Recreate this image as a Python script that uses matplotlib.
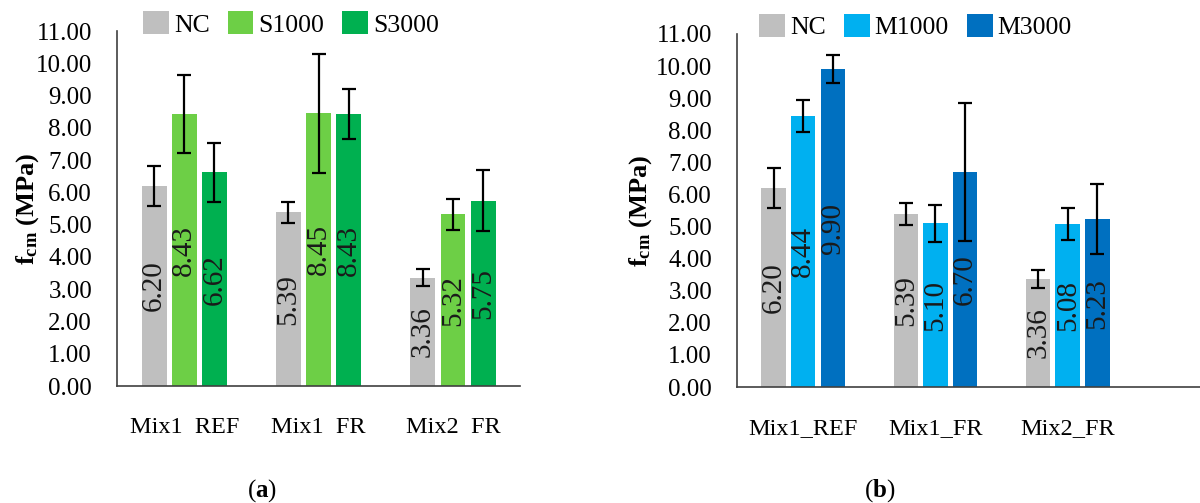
import numpy as np
import matplotlib.pyplot as plt

plt.rcParams['font.family'] = ['Liberation Serif', 'DejaVu Serif']
plt.rcParams['mathtext.fontset'] = 'custom'
plt.rcParams['mathtext.rm'] = 'Liberation Serif'
plt.rcParams['mathtext.bf'] = 'Liberation Serif:bold'
plt.rcParams['mathtext.it'] = 'Liberation Serif:italic'

# --- datos ---
cats_a = ['Mix1  REF', 'Mix1  FR', 'Mix2  FR']
cats_b = ['Mix1_REF', 'Mix1_FR', 'Mix2_FR']

series_a = ['NC', 'S1000', 'S3000']
vals_a = [[6.20, 5.39, 3.36],
          [8.43, 8.45, 5.32],
          [6.62, 8.43, 5.75]]
errs_a = [[0.63, 0.33, 0.27],
          [1.21, 1.85, 0.49],
          [0.92, 0.78, 0.95]]

series_b = ['NC', 'M1000', 'M3000']
vals_b = [[6.20, 5.39, 3.36],
          [8.44, 5.10, 5.08],
          [9.90, 6.70, 5.23]]
errs_b = [[0.63, 0.33, 0.27],
          [0.50, 0.58, 0.51],
          [0.43, 2.14, 1.09]]

colors_a = ['#BFBFBF', '#6DCF46', '#00B050']
colors_b = ['#BFBFBF', '#00B0F0', '#0070C0']

fig = plt.figure(figsize=(12, 5.03), dpi=100)
ax_a = fig.add_axes([0.0975, 0.2326, 0.336, 0.7053])
ax_b = fig.add_axes([0.6142, 0.2306, 0.3858, 0.702])


def dibujar(ax, cats, series, vals, errs, colors, xmax, leg_x, ylab_x):
    x = np.arange(len(cats))
    ancho = 0.186
    paso = 0.224
    for i, (nombre, v, e, c) in enumerate(zip(series, vals, errs, colors)):
        pos = x + (i - 1) * paso
        barras = ax.bar(pos, v, ancho, color=c, label=nombre, zorder=2)
        ax.errorbar(pos, v, yerr=e, fmt='none', ecolor='black',
                    elinewidth=1.6, capsize=5, capthick=1.6, zorder=3)
        for b, val in zip(barras, v):
            ax.text(b.get_x() + b.get_width() / 2, val / 2, f'{val:.2f}',
                    rotation=90, ha='center', va='center', fontsize=21,
                    color='#1a1a1a', zorder=4)
    ax.set_xlim(-0.5, xmax)
    ax.set_ylim(0, 11)
    ax.set_yticks(np.arange(0, 12, 1))
    ax.set_yticklabels([f'{t:.2f}' for t in range(12)])
    ax.set_xticks(x)
    ax.set_xticklabels(cats)
    ax.tick_params(axis='both', length=0)
    ax.tick_params(axis='x', pad=22, labelsize=17.5)
    ax.tick_params(axis='y', pad=18, labelsize=18)
    for s in ['top', 'right']:
        ax.spines[s].set_visible(False)
    for s in ['left', 'bottom']:
        ax.spines[s].set_color('#404040')
        ax.spines[s].set_linewidth(1.2)
    ax.set_ylabel(r'$\mathbf{f_{cm}}$ (MPa)', fontsize=19, fontweight='bold')
    ax.yaxis.set_label_coords(ylab_x, 0.5)
    ax.legend(loc='center left', bbox_to_anchor=(leg_x, 1.02), ncol=3,
              frameon=False, fontsize=18.5, handlelength=1.0, handleheight=1.0,
              handletextpad=0.2, columnspacing=0.7, borderpad=0,
              borderaxespad=0)


dibujar(ax_a, cats_a, series_a, vals_a, errs_a, colors_a, 2.5, 0.065, -0.188)
dibujar(ax_b, cats_b, series_b, vals_b, errs_b, colors_b, 3.0, 0.048, -0.179)

fig.text(0.218, 0.025, r'($\mathbf{a}$)', ha='center', va='center', fontsize=18)
fig.text(0.733, 0.025, r'($\mathbf{b}$)', ha='center', va='center', fontsize=18)

fig.savefig('out.png', dpi=100)
